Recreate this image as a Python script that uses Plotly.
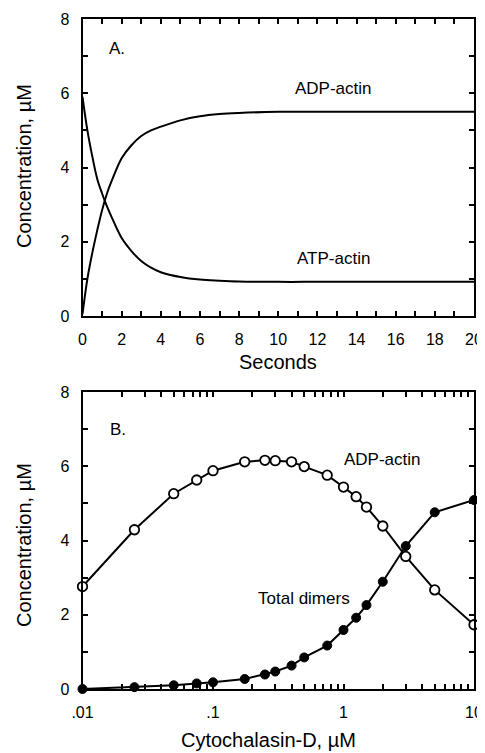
import plotly.graph_objects as go

# panel A: time course
seconds = [0, 0.25, 0.5, 0.75, 1, 1.25, 1.5, 2, 2.5, 3, 3.5, 4, 5, 6, 7, 8, 10, 12, 14, 16, 18, 20]
atp_actin = [5.9, 5.0, 4.3, 3.7, 3.3, 2.95, 2.65, 2.1, 1.75, 1.48, 1.3, 1.18, 1.05, 0.98, 0.95, 0.93,
             0.92, 0.92, 0.92, 0.92, 0.92, 0.92]
adp_actin_a = [0.05, 1.0, 1.7, 2.3, 2.85, 3.3, 3.65, 4.25, 4.6, 4.85, 5.0, 5.1, 5.27, 5.38, 5.44, 5.47,
               5.5, 5.5, 5.5, 5.5, 5.5, 5.5]

# panel B: cytochalasin-D titration
cytoD = [0.01, 0.025, 0.05, 0.075, 0.1, 0.175, 0.25, 0.3, 0.4, 0.5, 0.75, 1.0, 1.25, 1.5, 2, 3, 5, 10]
adp_actin_b = [2.76, 4.29, 5.26, 5.63, 5.88, 6.12, 6.16, 6.15, 6.12, 5.99, 5.76, 5.44, 5.18, 4.9,
               4.39, 3.57, 2.67, 1.73]
total_dimers = [0.0, 0.05, 0.1, 0.15, 0.18, 0.27, 0.39, 0.47, 0.63, 0.85, 1.17, 1.59, 1.92, 2.26,
                2.89, 3.85, 4.76, 5.09]

sec_ticks = list(range(0, 21))
sec_labels = [str(v) if v % 2 == 0 else "" for v in sec_ticks]
conc_ticks = list(range(0, 9))
conc_labels = [str(v) if v % 2 == 0 else "" for v in conc_ticks]
log_ticks = [m * d for d in (0.01, 0.1, 1) for m in range(1, 10)] + [10]
log_labels = {0.01: ".01", 0.1: ".1", 1: "1", 10: "10"}

FONT = "Liberation Sans, Arial, sans-serif"
OFF = 8  # page body margin; positions below are measured on screen
W, H = 485 - OFF, 753 - OFF


def px_x(x):
    return (x - OFF) / W


def px_y(y):
    return 1 - (y - OFF) / H


fig = go.Figure()

fig.add_trace(go.Scatter(x=seconds, y=atp_actin, mode="lines", line=dict(color="black", width=2, shape="spline"),
                         xaxis="x", yaxis="y", showlegend=False))
fig.add_trace(go.Scatter(x=seconds, y=adp_actin_a, mode="lines", line=dict(color="black", width=2, shape="spline"),
                         xaxis="x", yaxis="y", showlegend=False))

fig.add_trace(go.Scatter(x=cytoD, y=total_dimers, mode="lines+markers",
                         line=dict(color="black", width=2),
                         marker=dict(symbol="circle", size=9, color="black", line=dict(color="black", width=1)),
                         xaxis="x2", yaxis="y2", cliponaxis=False, showlegend=False))
fig.add_trace(go.Scatter(x=cytoD, y=adp_actin_b, mode="lines+markers",
                         line=dict(color="black", width=2),
                         marker=dict(symbol="circle", size=9.5, color="white", line=dict(color="black", width=1.8)),
                         xaxis="x2", yaxis="y2", cliponaxis=False, showlegend=False))

axis_common = dict(showline=True, linecolor="black", linewidth=2, mirror="allticks",
                   ticks="inside", ticklen=5, tickwidth=1.5, tickcolor="black",
                   showgrid=False, zeroline=False, automargin=False,
                   tickfont=dict(family=FONT, size=16, color="black"),
                   ticklabelstandoff=8)

xd = [px_x(82.5), px_x(474)]
fig.update_layout(
    width=W, height=H,
    margin=dict(l=0, r=0, t=0, b=0, pad=0, autoexpand=False),
    paper_bgcolor="white", plot_bgcolor="white",
    xaxis=dict(domain=xd, range=[0, 20], tickmode="array", tickvals=sec_ticks, ticktext=sec_labels,
               anchor="y", **axis_common),
    yaxis=dict(domain=[px_y(316), px_y(19)], range=[0, 8], tickmode="array", tickvals=conc_ticks,
               ticktext=conc_labels, anchor="x", **axis_common),
    xaxis2=dict(domain=xd, type="log", range=[-2, 1], tickmode="array", tickvals=log_ticks,
                ticktext=[log_labels.get(round(v, 4), "") for v in log_ticks], anchor="y2", **axis_common),
    yaxis2=dict(domain=[px_y(689), px_y(392)], range=[0, 8], tickmode="array", tickvals=conc_ticks,
                ticktext=conc_labels, anchor="x2", **axis_common),
)

lab = dict(family=FONT, size=17, color="black")
ttl = dict(family=FONT, size=20, color="black")
annos = [
    dict(x=1.74, y=7.2, xref="x", yref="y", text="A.", font=lab),
    dict(x=12.8, y=6.12, xref="x", yref="y", text="ADP-actin", font=lab),
    dict(x=12.8, y=1.54, xref="x", yref="y", text="ATP-actin", font=lab),
    dict(x=-1.73, y=6.98, xref="x2", yref="y2", text="B.", font=lab),
    dict(x=0.295, y=6.17, xref="x2", yref="y2", text="ADP-actin", font=lab),
    dict(x=-0.301, y=2.43, xref="x2", yref="y2", text="Total dimers", font=lab),
    dict(x=px_x(278), y=px_y(362), xref="paper", yref="paper", text="Seconds", font=ttl),
    dict(x=px_x(268), y=px_y(740), xref="paper", yref="paper", text="Cytochalasin-D, µM", font=ttl),
    dict(x=px_x(24), y=px_y(166), xref="paper", yref="paper", text="Concentration, µM", font=ttl, textangle=-90),
    dict(x=px_x(24), y=px_y(545), xref="paper", yref="paper", text="Concentration, µM", font=ttl, textangle=-90),
]
for a in annos:
    a.update(showarrow=False, xanchor="center", yanchor="middle")
fig.update_layout(annotations=annos)

fig.write_html("out.html")
